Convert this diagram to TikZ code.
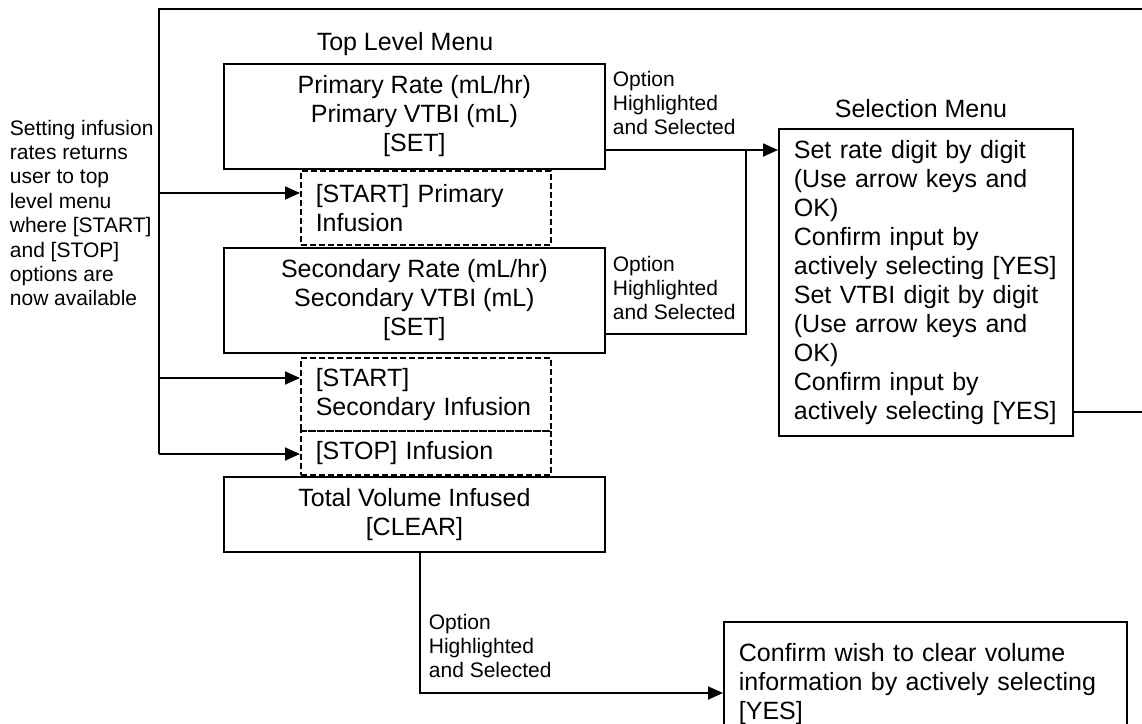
\documentclass[tikz,border=0pt]{standalone}
\usepackage{fontspec}
\setmainfont{Liberation Sans}
\usetikzlibrary{arrows.meta,calc}
\begin{document}
\begin{tikzpicture}[x=1pt,y=-1pt,
  line width=1.8pt,
  big/.style={font=\fontsize{25}{29}\selectfont},
  small/.style={font=\fontsize{21}{24.4}\selectfont},
  box/.style={draw, big, align=center, inner sep=0pt, anchor=north west},
  dbox/.style={draw, big, align=left, dash pattern=on 6pt off 3pt, line width=1.5pt,
    inner xsep=15pt, inner ysep=0pt, text width=220pt, anchor=north west},
  lbox/.style={draw, big, align=left, inner xsep=15pt, inner ysep=0pt, anchor=north west},
  lbl/.style={small, align=left, anchor=west, inner sep=0pt},
  arr/.style={-{Triangle[length=15pt,width=13pt]}},
]
\useasboundingbox (0,0) rectangle (1142,723);
\fill[white] (0,0) rectangle (1142,723);
\clip (0,0) rectangle (1142,723);

% top level menu boxes
\node[big, inner sep=0pt] (lbltop) at (405,44) {Top Level Menu};
\node[box, minimum width=381pt, minimum height=105pt] (prim) at (223,63)
  {Primary Rate (mL/hr)\\Primary VTBI (mL)\\{}[SET]};
\node[dbox, minimum height=74pt] (startp) at (300,170) {[START] Primary\\Infusion};
\node[box, minimum width=381pt, minimum height=105pt] (sec) at (223,247)
  {Secondary Rate (mL/hr)\\Secondary VTBI (mL)\\{}[SET]};
\node[dbox, minimum height=73pt] (starts) at (300,357) {[START]\\Secondary Infusion};
\node[dbox, minimum height=44pt] (stopi) at (300,430) {[STOP] Infusion};
\node[box, minimum width=381pt, minimum height=75pt] (total) at (223,476)
  {Total Volume Infused\\{}[CLEAR]};

% selection menu
\node[big, inner sep=0pt] (lblsel) at (921,109) {Selection Menu};
\node[lbox, text width=264pt, minimum height=307pt] (sel) at (778,128)
  {Set rate digit by digit\\(Use arrow keys and\\OK)\\Confirm input by\\actively selecting [YES]\\Set VTBI digit by digit\\(Use arrow keys and\\OK)\\Confirm input by\\actively selecting [YES]};

% confirm box
\node[lbox, text width=373pt, minimum height=124pt] (conf) at (723,621)
  {Confirm wish to clear volume\\information by actively selecting\\{}[YES]};

% labels
\node[lbl] (lblleft) at (9,213) {Setting infusion\\rates returns\\user to top\\level menu\\where [START]\\and [STOP]\\options are\\now available};
\node[lbl] (opt1) at (612,103) {Option\\Highlighted\\and Selected};
\node[lbl] (opt2) at (612,288) {Option\\Highlighted\\and Selected};
\node[lbl] (opt3) at (428,646) {Option\\Highlighted\\and Selected};

% connectors to selection menu
\coordinate (j1) at (746,150);
\coordinate (j2) at (746,334);
\draw[arr] (prim.east |- j1) -- (j1 -| sel.west);
\draw (sec.east |- j2) -- (j2) -- (j1);

% feedback loop
\coordinate (f1) at (1152,412);
\coordinate (f2) at (1152,9);
\coordinate (f3) at (159,9);
\coordinate (f4) at (159,454);
\draw (sel.east |- f1) -- (f1) -- (f2) -- (f3) -- (f4);
\coordinate (b1) at (159,193);
\coordinate (b2) at (159,378);
\draw[arr] (b1) -- (b1 -| startp.west);
\draw[arr] (b2) -- (b2 -| starts.west);
\draw[arr] (f4) -- (f4 -| stopi.west);

% clear path
\coordinate (c1) at (420,693);
\draw[arr] (total.south -| c1) -- (c1) -- (c1 -| conf.west);
\end{tikzpicture}
\end{document}
